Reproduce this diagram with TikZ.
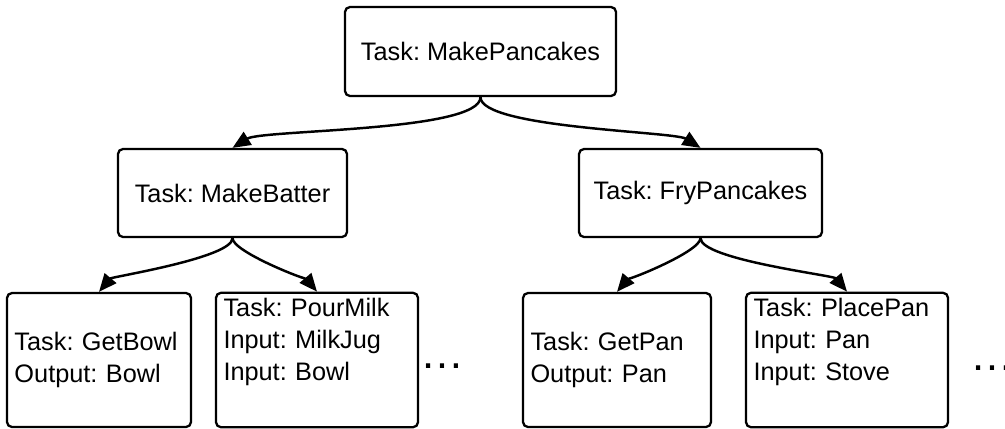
\documentclass[tikz,border=0pt]{standalone}
\usepackage{fontspec}
\setmainfont{Liberation Sans}
\frenchspacing
\usepackage{tikz}
\usetikzlibrary{shapes,arrows.meta,positioning}

\begin{document}
\begin{tikzpicture}[
    auto,
    task/.style={rectangle, rounded corners=0.1cm, draw=black, line width=1.3pt, text centered, minimum height=1.76cm, font=\fontsize{14.4}{18}\selectfont},
    leaf/.style={rectangle, rounded corners=0.1cm, draw=black, line width=1.3pt, align=left, inner xsep=0.15cm, minimum height=2.68cm, font=\fontsize{14.4}{18}\selectfont},
    dots/.style={inner sep=0pt, font=\fontsize{25}{25}\selectfont},
    arrow/.style={line width=1.4pt, -{Triangle[length=0.36cm, width=0.3cm]}, out=-90, looseness=0.35},
    toleft/.style={arrow, in=#1},
    toleft/.default=50,
    toright/.style={arrow, in=180-#1},
    toright/.default=50
]
% Page frame
\clip (0,0) rectangle (20.1,-8.56);
% Top level
\node[task, minimum width=5.42cm, minimum height=1.78cm] (pancakes) at (9.61, -1.03) {Task: MakePancakes};
% Second level
\node[task, minimum width=4.58cm] (batter) at (4.65, -3.86) {Task: MakeBatter};
\node[task, minimum width=4.86cm] (fry) at (14.01, -3.86) {Task: FryPancakes};
% Leaves (left branch)
\node[leaf, text width=3.38cm] (getbowl) at (1.98, -7.2) {Task: GetBowl\\ Output: Bowl};
\node[leaf, text width=3.74cm] (pourmilk) at (6.34, -7.2) {Task: PourMilk\\ Input: MilkJug\\ Input: Bowl\\ \strut};
\node[dots] (more1) at (8.84, -7.32) {…};
% Leaves (right branch)
\node[leaf, text width=3.46cm] (getpan) at (12.34, -7.2) {Task: GetPan\\ Output: Pan};
\node[leaf, text width=3.74cm] (placepan) at (16.94, -7.2) {Task: PlacePan\\ Input: Pan\\ Input: Stove\\ \strut};
\node[dots] (more2) at (19.84, -7.36) {…};
% Arrows - top level
\draw[toleft=32] (pancakes.south) to (batter.north);
\draw[toright=32] (pancakes.south) to (fry.north);
% Arrows - leaves
\draw[toleft] (batter.south) to (getbowl.north);
\draw[toright] (batter.south) to (pourmilk.north);
\draw[toleft] (fry.south) to (getpan.north);
\draw[toright] (fry.south) to (placepan.north);
\end{tikzpicture}
\end{document}
